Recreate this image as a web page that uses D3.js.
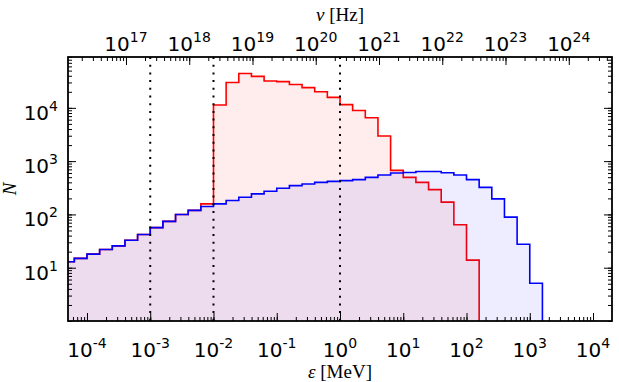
<!DOCTYPE html>
<html>
<head>
<meta charset="utf-8">
<script src="https://cdn.jsdelivr.net/npm/d3@7"></script>
<style>
body { margin: 0; background: #fff; }
</style>
</head>
<body>
<div id="chart"></div>
<script>
// log10 of bin edges in MeV
var binEdges = [-4.4, -4.2, -4.0, -3.8, -3.6, -3.4, -3.2, -3.0, -2.8, -2.6,
    -2.4, -2.2, -2.0, -1.8, -1.6, -1.4, -1.2, -1.0, -0.8, -0.6,
    -0.4, -0.2, 0.0, 0.2, 0.4, 0.6, 0.8, 1.0, 1.2, 1.4,
    1.6, 1.8, 2.0, 2.2, 2.4, 2.6, 2.8, 3.0, 3.2];

var blueCounts = [12.9, 15, 18, 22, 25.7, 32.8, 42, 56.5, 74, 100,
    119, 141, 158, 182, 210, 243, 272, 309, 347, 373,
    400, 417, 430, 449, 495, 550, 600, 614, 640, 640,
    605, 548, 449, 322, 196, 89, 27.6, 5.1];

var redCounts = [12.9, 15, 18, 22, 25.7, 32.8, 42, 56.5, 74, 100,
    119, 158, 11300, 30000, 44000, 39000, 32000, 31000, 27500, 24000,
    20000, 15700, 11500, 8900, 6500, 2960, 670, 495, 400, 292,
    170, 64, 13.9, 0, 0, 0, 0, 0];

var markerLines = [1e-3, 1e-2, 1];
var xTickExps = [-4, -3, -2, -1, 0, 1, 2, 3, 4];
var yTickExps = [1, 2, 3, 4];
var nuTickExps = [17, 18, 19, 20, 21, 22, 23, 24];
var mevToHz = 2.418e20;

(function(){
    var width = 619;
    var height = 382;
    var left = 68, right = 612, top = 57, bottom = 321;

    var svg = d3.select("#chart")
        .append("svg")
        .attr("width", width)
        .attr("height", height)
        .style("font-family", "DejaVu Sans")

    var x = d3.scaleLog().domain([Math.pow(10, -4.3), Math.pow(10, 4.3)]).range([left, right])
    var y = d3.scaleLog().domain([1, 9e4]).range([bottom, top])
    var nu = d3.scaleLog().domain(x.domain().map(function(d){ return d * mevToHz })).range([left, right])

    svg.append("defs").append("clipPath")
        .attr("id", "plot-clip")
        .append("rect")
        .attr("x", left).attr("y", top)
        .attr("width", right - left).attr("height", bottom - top)

    function histPoints(counts) {
        var pts = []
        var last = -1
        counts.forEach(function(c, i){
            if (c > 0) {
                pts.push([Math.pow(10, binEdges[i]), c])
                last = i
            }
        })
        pts.push([Math.pow(10, binEdges[last + 1]), counts[last]])
        pts.push([Math.pow(10, binEdges[last + 1]), y.domain()[0]])
        return pts
    }

    var line = d3.line()
        .curve(d3.curveStepAfter)
        .x(function(d){ return x(d[0]) })
        .y(function(d){ return y(d[1]) })

    var area = d3.area()
        .curve(d3.curveStepAfter)
        .x(function(d){ return x(d[0]) })
        .y0(bottom)
        .y1(function(d){ return y(d[1]) })

    var plot = svg.append("g").attr("clip-path", "url(#plot-clip)")

    var series = [
        {counts: redCounts, color: "#ff0000"},
        {counts: blueCounts, color: "#0000ff"}
    ]

    series.forEach(function(s){
        var pts = histPoints(s.counts)
        plot.append("path")
            .attr("d", area(pts))
            .attr("fill", s.color)
            .attr("fill-opacity", 0.07)
        plot.append("path")
            .attr("d", line(pts))
            .attr("fill", "none")
            .attr("stroke", s.color)
            .attr("stroke-width", 1.6)
    })

    // dotted markers
    plot.selectAll(".marker")
        .data(markerLines)
        .enter().append("line")
        .attr("x1", function(d){ return x(d) })
        .attr("x2", function(d){ return x(d) })
        .attr("y1", top)
        .attr("y2", bottom)
        .attr("stroke", "#000")
        .attr("stroke-width", 2)
        .attr("stroke-dasharray", "2,5.7")

    // ticks (inward)
    function tickAxis(axis, tx, ty, values, size) {
        var g = svg.append("g")
            .attr("transform", "translate(" + tx + "," + ty + ")")
            .call(axis.tickValues(values).tickSize(size).tickFormat(""))
        g.select(".domain").remove()
        g.selectAll(".tick line").attr("stroke", "#000").attr("stroke-width", 1)
        return g
    }
    var xMajor = xTickExps.map(function(e){ return Math.pow(10, e) })
    var yMajor = yTickExps.map(function(e){ return Math.pow(10, e) })
    var nuMajor = nuTickExps.map(function(e){ return Math.pow(10, e) })

    tickAxis(d3.axisBottom(x), 0, bottom, x.ticks(), -4)
    tickAxis(d3.axisBottom(x), 0, bottom, xMajor, -8)
    tickAxis(d3.axisTop(nu), 0, top, nu.ticks(), -4)
    tickAxis(d3.axisTop(nu), 0, top, nuMajor, -8)
    tickAxis(d3.axisLeft(y), left, 0, y.ticks(), -4)
    tickAxis(d3.axisLeft(y), left, 0, yMajor, -8)
    tickAxis(d3.axisRight(y), right, 0, y.ticks(), -4)
    tickAxis(d3.axisRight(y), right, 0, yMajor, -8)

    // frame
    svg.append("rect")
        .attr("x", left).attr("y", top)
        .attr("width", right - left).attr("height", bottom - top)
        .attr("fill", "none")
        .attr("stroke", "#000")
        .attr("stroke-width", 1.8)

    // tick labels with superscripts
    function powLabel(sel, exp) {
        sel.append("tspan").text("10")
        sel.append("tspan")
            .attr("dy", -9)
            .attr("font-size", 14)
            .text(exp)
    }

    svg.selectAll(".xlab")
        .data(xTickExps)
        .enter().append("text")
        .attr("x", function(d){ return x(Math.pow(10, d)) })
        .attr("y", 357)
        .attr("text-anchor", "middle")
        .attr("font-size", 20)
        .each(function(d){ powLabel(d3.select(this), d) })

    svg.selectAll(".nulab")
        .data(nuTickExps)
        .enter().append("text")
        .attr("x", function(d){ return nu(Math.pow(10, d)) })
        .attr("y", 51)
        .attr("text-anchor", "middle")
        .attr("font-size", 20)
        .each(function(d){ powLabel(d3.select(this), d) })

    svg.selectAll(".ylab")
        .data(yTickExps)
        .enter().append("text")
        .attr("x", 58)
        .attr("y", function(d){ return y(Math.pow(10, d)) + 12 })
        .attr("text-anchor", "end")
        .attr("font-size", 20)
        .each(function(d){ powLabel(d3.select(this), d) })

    // axis titles
    var xt = svg.append("text")
        .attr("x", (left + right) / 2)
        .attr("y", 378)
        .attr("text-anchor", "middle")
        .attr("font-family", "Liberation Serif")
        .attr("font-size", 19)
    xt.append("tspan").attr("font-style", "italic").text("\u03b5")
    xt.append("tspan").text(" [MeV]")

    var nt = svg.append("text")
        .attr("x", (left + right) / 2)
        .attr("y", 21)
        .attr("text-anchor", "middle")
        .attr("font-family", "Liberation Serif")
        .attr("font-size", 19)
    nt.append("tspan").attr("font-style", "italic").text("\u03bd")
    nt.append("tspan").text(" [Hz]")

    svg.append("text")
        .attr("transform", "translate(16," + ((top + bottom) / 2) + ") rotate(-90)")
        .attr("text-anchor", "middle")
        .attr("font-family", "Liberation Serif")
        .attr("font-style", "italic")
        .attr("font-size", 19)
        .text("N")
})();
</script>
</body>
</html>
